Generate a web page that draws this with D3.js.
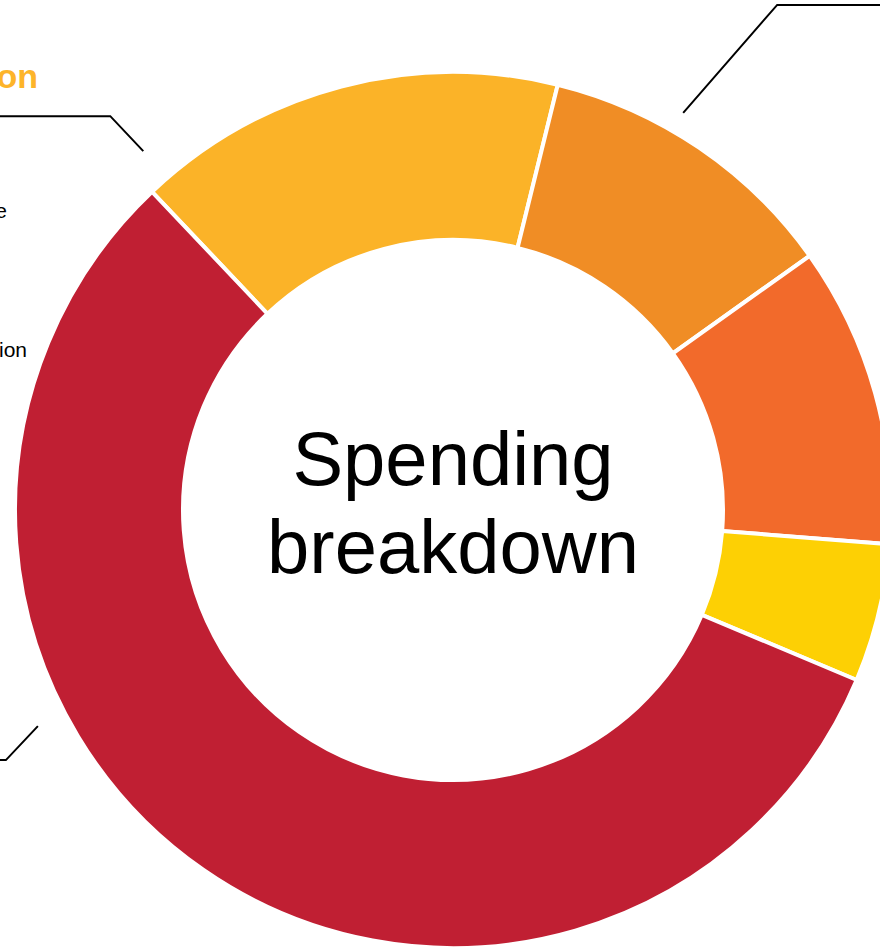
<!DOCTYPE html>
<html>
<head>
<meta charset="utf-8">
<script src="https://cdn.jsdelivr.net/npm/d3@7"></script>
<style>
  html, body { margin: 0; padding: 0; background: #fff; }
  svg { display: block; font-family: "Liberation Sans", Arial, Helvetica, sans-serif; }
</style>
</head>
<body>
<div id="chart"></div>
<script>
// donut data
const categories = ["Education", "Health", "Infrastructure", "Public safety", "Social services"];
const shares = [15.9, 11.3, 11.1, 5.1, 56.6];
const colors = ["#FBB328", "#F08D25", "#F26A2B", "#FDD004", "#C01F33"];

// label text (partly outside the view)
const titleLines = ["Spending", "breakdown"];
const noteLines = ["Funding for local schools and the state", "grants for colleges and their expansion"];

const width = 880, height = 952;
const cx = 453, cy = 510;
const outerR = 438, innerR = 270;
const toRad = d => d * Math.PI / 180;

const svg = d3.select("#chart")
  .append("svg")
  .attr("width", width)
  .attr("height", height);

const g = svg.append("g").attr("transform", `translate(${cx},${cy})`);

const pie = d3.pie()
  .sort(null)
  .value(d => d)
  .startAngle(toRad(-43.4))
  .endAngle(toRad(-43.4) + 2 * Math.PI);

const arc = d3.arc().innerRadius(innerR).outerRadius(outerR);

g.selectAll("path")
  .data(pie(shares))
  .enter().append("path")
  .attr("d", arc)
  .attr("fill", (d, i) => colors[i])
  .attr("stroke", "#fff")
  .attr("stroke-width", 4)
  .append("title")
  .text((d, i) => `${categories[i]}: ${shares[i]}%`);

// centre title
g.selectAll("text.title")
  .data(titleLines)
  .enter().append("text")
  .attr("class", "title")
  .attr("text-anchor", "middle")
  .attr("y", (d, i) => -25 + i * 88)
  .style("font-size", "76px")
  .attr("fill", "#000")
  .text(d => d);

// leader lines: angle (deg), radius, elbow offset, horizontal run
const leaders = [
  { angle: -40.8, r: 474, dx: -33, dy: -35, run: -140 },
  { angle: 30.1, r: 459, dx: 94, dy: -108, run: 140 },
  { angle: -117.5, r: 468, dx: -32, dy: 34, run: -40 }
];

const polar = (a, r) => [r * Math.sin(toRad(a)), -r * Math.cos(toRad(a))];

leaders.forEach(l => {
  const p0 = polar(l.angle, l.r);
  const p1 = [p0[0] + l.dx, p0[1] + l.dy];
  const p2 = [p1[0] + l.run, p1[1]];
  g.append("path")
    .attr("d", d3.line()([p0, p1, p2]))
    .attr("fill", "none")
    .attr("stroke", "#000")
    .attr("stroke-width", 2);
});

// left-side label (runs off the left edge)
svg.append("text")
  .attr("x", 38).attr("y", 88)
  .attr("text-anchor", "end")
  .style("font-size", "34px")
  .style("font-weight", "bold")
  .attr("fill", "#FDB42A")
  .text(categories[0]);

svg.selectAll("text.note")
  .data(noteLines)
  .enter().append("text")
  .attr("class", "note")
  .attr("x", (d, i) => i === 0 ? 7 : 27)
  .attr("y", (d, i) => i === 0 ? 218 : 357)
  .attr("text-anchor", "end")
  .style("font-size", "21px")
  .attr("fill", "#000")
  .text(d => d);
</script>
</body>
</html>
